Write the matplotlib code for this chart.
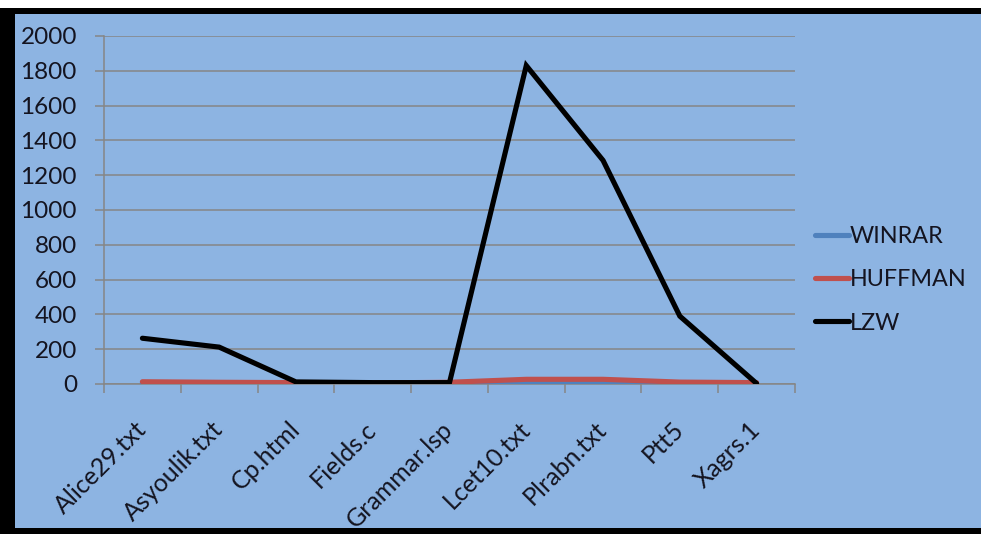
import matplotlib
matplotlib.use("Agg")
import matplotlib.pyplot as plt
from matplotlib.patches import Rectangle

plt.rcParams['font.family'] = ['Lato', 'DejaVu Sans']

files = ["Alice29.txt", "Asyoulik.txt", "Cp.html", "Fields.c", "Grammar.lsp",
         "Lcet10.txt", "Plrabn.txt", "Ptt5", "Xagrs.1"]
winrar = [6, 5, 4, 3, 2, 12, 12, 5, 3]
huffman = [13, 10, 8, 6, 10, 27, 27, 11, 8]
lzw = [263, 212, 12, 8, 8, 1830, 1285, 390, 3]
y_ticks = [0, 200, 400, 600, 800, 1000, 1200, 1400, 1600, 1800, 2000]

bg = "#8DB4E2"
grid_col = "#868686"
text_col = "#141420"

W, H = 981, 534
fig = plt.figure(figsize=(W / 100, H / 100), dpi=100, facecolor=bg)

# outer frame: white strip on top, black bands on top, left and bottom
def band(x0, y0, x1, y1, color):
    fig.patches.append(Rectangle((x0 / W, 1 - y1 / H), (x1 - x0) / W, (y1 - y0) / H,
                                 transform=fig.transFigure, facecolor=color,
                                 edgecolor="none", zorder=0))

band(0, 0, W, 8, "white")
band(0, 8, W, 14, "black")
band(0, 8, 15, H, "black")
band(0, 528, W, H, "black")

ax = fig.add_axes([104 / W, 1 - 384 / H, (795 - 104) / W, (384 - 36) / H])
ax.set_facecolor(bg)

x = list(range(len(files)))
ax.plot(x, winrar, color="#4F81BD", lw=3.7, solid_capstyle="round", label="WINRAR", zorder=3)
ax.plot(x, huffman, color="#C0504D", lw=3.7, solid_capstyle="round", label="HUFFMAN", zorder=4)
ax.plot(x, lzw, color="black", lw=3.7, solid_capstyle="round", solid_joinstyle="miter",
        label="LZW", zorder=5)

ax.set_xlim(-0.5, len(files) - 0.5)
ax.set_ylim(0, 2000)

ax.set_yticks(y_ticks)
ax.set_yticklabels([str(v) for v in y_ticks], fontsize=17.5, color=text_col)
ax.yaxis.grid(True, color=grid_col, lw=1.1)
ax.tick_params(axis="y", length=6.5, width=1.1, color=grid_col, pad=13)

ax.set_xticks(x)
ax.set_xticklabels(files, fontsize=18, color=text_col, rotation=45,
                   ha="right", va="center", rotation_mode="anchor")
ax.tick_params(axis="x", which="major", length=0, pad=30)
ax.set_xticks([i - 0.5 for i in range(len(files) + 1)], minor=True)
ax.tick_params(axis="x", which="minor", length=6.5, width=1.1, color=grid_col)

for s in ["top", "right"]:
    ax.spines[s].set_visible(False)
for s in ["left", "bottom"]:
    ax.spines[s].set_color(grid_col)
    ax.spines[s].set_linewidth(1.1)
ax.set_axisbelow(True)

handles, labels = ax.get_legend_handles_labels()
leg = fig.legend(handles, labels, loc="center left",
                 bbox_to_anchor=(815 / W, 1 - 280 / H), frameon=False,
                 fontsize=16.8, handlelength=1.45, handletextpad=0.05,
                 labelspacing=0.95, borderpad=0, borderaxespad=0)
for t in leg.get_texts():
    t.set_color(text_col)

fig.savefig("out.png", dpi=100, facecolor=bg)
